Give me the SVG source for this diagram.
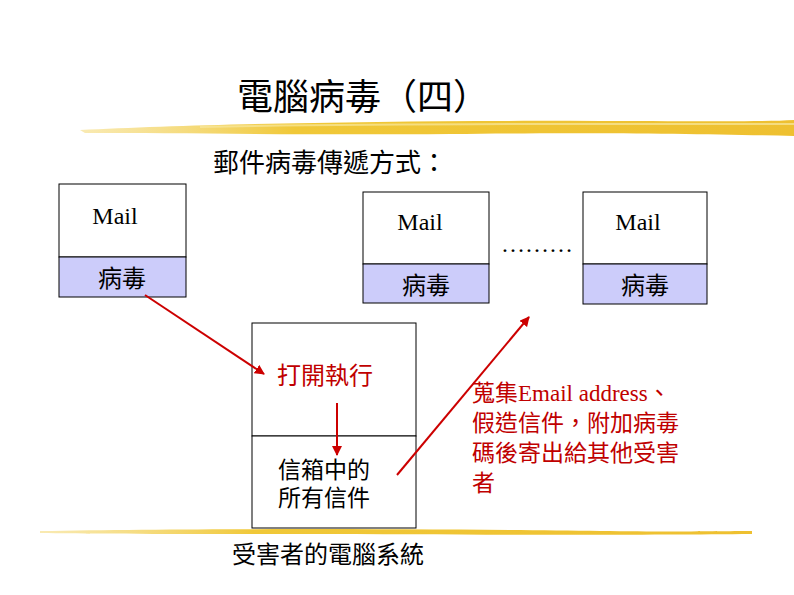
<svg xmlns="http://www.w3.org/2000/svg" width="794" height="595" viewBox="0 0 794 595">
<style>
.box{fill:#fff;stroke:#000;stroke-width:1}
.virus{fill:#CCCCFA;stroke:#000;stroke-width:1}
.mail{font-family:"Liberation Serif","Noto Sans CJK TC",serif;font-size:24px;fill:#000;text-anchor:middle}
.cjk{font-family:"Noto Sans CJK TC",sans-serif;fill:#000}
.mix{font-family:"Liberation Serif","Noto Sans CJK TC",serif}
.red{fill:#C00000}
.arrow{stroke:#CC0000;stroke-width:2;fill:none;marker-end:url(#ah)}
</style>
<defs>
<marker id="ah" viewBox="0 0 10 10" refX="9" refY="5" markerWidth="5" markerHeight="5" orient="auto" markerUnits="strokeWidth">
<path d="M0,0 L10,5 L0,10 z" fill="#CC0000"/>
</marker>
<linearGradient id="brush" x1="0" y1="0" x2="1" y2="0">
<stop offset="0" stop-color="#F5DC80" stop-opacity="0.6"/>
<stop offset="0.3" stop-color="#F0C838"/>
<stop offset="1" stop-color="#EEC030"/>
</linearGradient>
</defs>
<g id="title">
<text x="237" y="110" class="cjk" font-size="36">電腦病毒（四）</text>
<path d="M80,130 C200,124 400,120 600,121 C700,121 760,122 794,120 L794,136 C700,134 600,132 450,134 C300,135 180,133 85,133 Z" fill="url(#brush)"/>
<path d="M200,127 C400,123 600,124 794,124" stroke="#F8E8A0" stroke-width="2" fill="none" opacity="0.7"/>
<text x="213" y="172" class="cjk" font-size="26">郵件病毒傳遞方式：</text>
</g>
<g id="mail1">
<rect x="59" y="184" width="127" height="73" class="box"/>
<rect x="59" y="257" width="127" height="40" class="virus"/>
<text x="115" y="224" class="mail">Mail</text>
<text x="122" y="287" class="cjk" font-size="24" text-anchor="middle">病毒</text>
</g>
<g id="mail2">
<rect x="363" y="192" width="126" height="72" class="box"/>
<rect x="363" y="264" width="126" height="39" class="virus"/>
<text x="420" y="230" class="mail">Mail</text>
<text x="426" y="294" class="cjk" font-size="24" text-anchor="middle">病毒</text>
</g>
<text x="537" y="252" class="mail" font-size="22">………</text>
<g id="mail3">
<rect x="583" y="192" width="124" height="72" class="box"/>
<rect x="583" y="264" width="124" height="40" class="virus"/>
<text x="638" y="230" class="mail">Mail</text>
<text x="645" y="294" class="cjk" font-size="24" text-anchor="middle">病毒</text>
</g>
<g id="victim">
<rect x="252" y="323" width="164" height="113" class="box"/>
<rect x="252" y="436" width="164" height="92" class="box"/>
<text x="325" y="384" class="cjk red" font-size="24" text-anchor="middle">打開執行</text>
<text class="mix" font-size="23" fill="#000"><tspan x="278" y="478">信箱中的</tspan><tspan x="278" y="506">所有信件</tspan></text>
</g>
<g id="connectors">
<line x1="145" y1="295" x2="264" y2="374" class="arrow"/>
<line x1="337" y1="403" x2="337" y2="455" class="arrow"/>
<line x1="397" y1="475" x2="529" y2="317" class="arrow"/>
</g>
<g id="note">
<text class="mix" font-size="23" fill="#C00000"><tspan x="472" y="401">蒐集Email address、</tspan><tspan x="472" y="431">假造信件，附加病毒</tspan><tspan x="472" y="461">碼後寄出給其他受害</tspan><tspan x="472" y="491">者</tspan></text>
</g>
<path d="M40,531 C200,528 450,529 600,531 C680,532 730,531 752,531 L752,534 C650,535 500,535 300,534 C180,534 80,534 40,533 Z" fill="url(#brush)"/>
<text x="232" y="563" class="cjk" font-size="24">受害者的電腦系統</text>
</svg>
